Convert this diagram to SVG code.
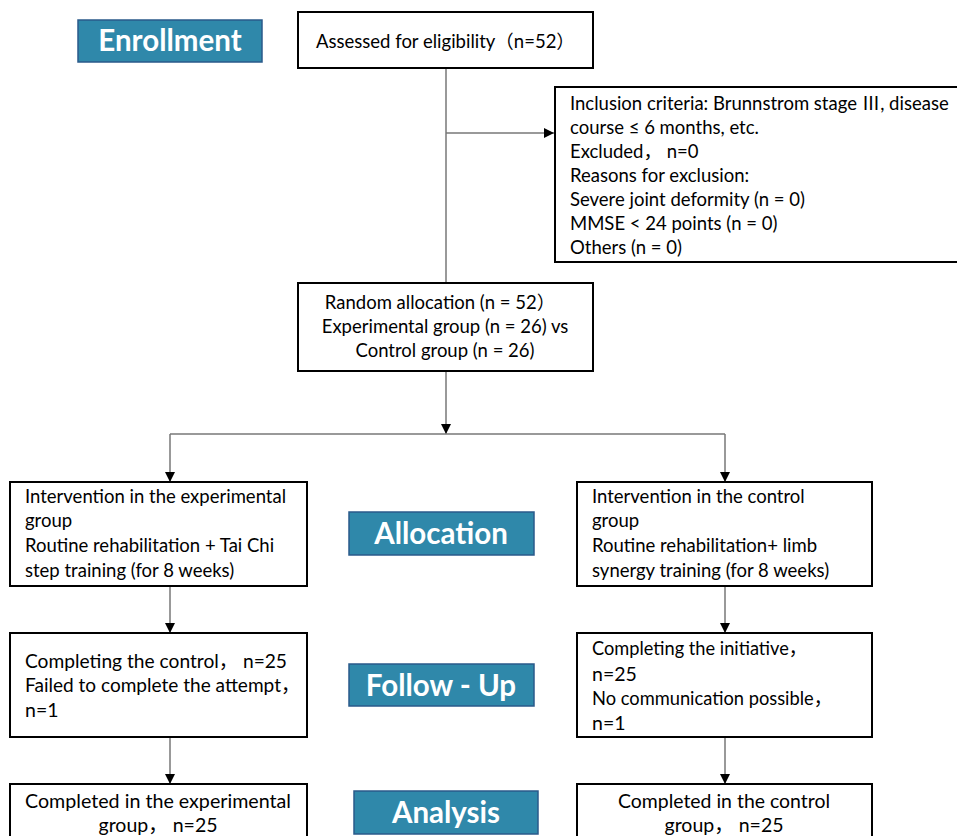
<svg xmlns="http://www.w3.org/2000/svg" width="957" height="836" viewBox="0 0 957 836">
<defs>
<marker id="arr" viewBox="0 0 10 10" refX="10" refY="5" markerWidth="10" markerHeight="10" markerUnits="userSpaceOnUse" orient="auto"><path d="M0,0 L10,5 L0,10 z" fill="#000"/></marker>
<style>
.box{fill:#fff;stroke:#000;stroke-width:2}
.stage{fill:#2f88aa;stroke:#2a5a8a;stroke-width:1.5}
.stt{font-family:Lato,"Liberation Sans","Noto Sans CJK SC",sans-serif;font-weight:bold;font-size:29.5px;fill:#fff;text-anchor:middle}
.t{font-family:Lato,"Liberation Sans","Noto Sans CJK SC",sans-serif;font-size:18.5px;fill:#000}
.n{font-size:19.5px}
.c{text-anchor:middle}
.ln{stroke:#777;stroke-width:1.5;fill:none}
</style>
</defs>
<g id="connectors">
<path class="ln" d="M446,68 V283"/>
<path class="ln" d="M446,133 H554" marker-end="url(#arr)"/>
<path class="ln" d="M446,371 V434" marker-end="url(#arr)"/>
<path class="ln" d="M170,434 H725"/>
<path class="ln" d="M170,434 V482" marker-end="url(#arr)"/>
<path class="ln" d="M725,434 V482" marker-end="url(#arr)"/>
<path class="ln" d="M170,586 V633" marker-end="url(#arr)"/>
<path class="ln" d="M725,586 V633" marker-end="url(#arr)"/>
<path class="ln" d="M170,737 V784" marker-end="url(#arr)"/>
<path class="ln" d="M725,737 V784" marker-end="url(#arr)"/>
</g>
<g id="enrollment"><rect class="stage" x="78" y="20" width="184" height="42"/><text class="stt" x="170" y="51">Enrollment</text></g>
<g id="allocation"><rect class="stage" x="349" y="512" width="185" height="43"/><text class="stt" x="441" y="544">Allocation</text></g>
<g id="followup"><rect class="stage" x="349" y="664" width="185" height="42"/><text class="stt" x="441" y="696">Follow - Up</text></g>
<g id="analysis"><rect class="stage" x="354" y="791" width="184" height="43"/><text class="stt" x="446" y="823">Analysis</text></g>
<g id="assessed"><rect class="box" x="298" y="12" width="295" height="56"/><text class="t" x="316" y="48" font-size="17.5">Assessed for eligibility（n=52）</text></g>
<g id="exclusion"><rect class="box" x="555" y="87" width="410" height="175"/>
<text class="t" x="570" y="110">Inclusion criteria: Brunnstrom stage Ⅲ, disease</text>
<text class="t" x="570" y="134">course ≤ 6 months, etc.</text>
<text class="t" x="570" y="158">Excluded，  n=0</text>
<text class="t" x="570" y="182">Reasons for exclusion:</text>
<text class="t" x="570" y="206">Severe joint deformity (n = 0)</text>
<text class="t" x="570" y="230">MMSE &lt; 24 points (n = 0)</text>
<text class="t" x="570" y="254">Others (n = 0)</text>
</g>
<g id="random"><rect class="box" x="298" y="283" width="295" height="88"/>
<text class="t c" x="440" y="309">Random allocation (n = 52）</text>
<text class="t c" x="445" y="333">Experimental group (n = 26) vs</text>
<text class="t c" x="445" y="357">Control group (n = 26)</text>
</g>
<g id="exp-intervention"><rect class="box" x="10" y="482" width="297" height="104"/>
<text class="t" x="25" y="503">Intervention in the experimental</text>
<text class="t" x="25" y="527">group</text>
<text class="t" x="25" y="552">Routine rehabilitation + Tai Chi</text>
<text class="t" x="25" y="577">step training (for 8 weeks)</text>
</g>
<g id="ctl-intervention"><rect class="box" x="577" y="482" width="295" height="104"/>
<text class="t" x="592" y="503">Intervention in the control</text>
<text class="t" x="592" y="527">group</text>
<text class="t" x="592" y="552">Routine rehabilitation+ limb</text>
<text class="t" x="592" y="577">synergy training  (for 8 weeks)</text>
</g>
<g id="exp-follow"><rect class="box" x="10" y="633" width="297" height="104"/>
<text class="t n" x="25" y="668" textLength="262" lengthAdjust="spacingAndGlyphs">Completing the control，  n=25</text>
<text class="t n" x="25" y="692" textLength="275" lengthAdjust="spacingAndGlyphs">Failed to complete the attempt，</text>
<text class="t n" x="25" y="717">n=1</text>
</g>
<g id="ctl-follow"><rect class="box" x="577" y="633" width="295" height="104"/>
<text class="t n" x="592" y="655" textLength="215" lengthAdjust="spacingAndGlyphs">Completing the initiative，</text>
<text class="t n" x="592" y="681">n=25</text>
<text class="t n" x="592" y="705" textLength="240" lengthAdjust="spacingAndGlyphs">No communication possible，</text>
<text class="t n" x="592" y="730">n=1</text>
</g>
<g id="exp-analysis"><rect class="box" x="10" y="784" width="297" height="60"/>
<text class="t n c" x="158" y="808" textLength="266" lengthAdjust="spacingAndGlyphs">Completed in the experimental</text>
<text class="t n c" x="158" y="832">group，  n=25</text>
</g>
<g id="ctl-analysis"><rect class="box" x="577" y="784" width="295" height="60"/>
<text class="t n c" x="724" y="808" textLength="212" lengthAdjust="spacingAndGlyphs">Completed in the control</text>
<text class="t n c" x="724" y="832">group，  n=25</text>
</g>
</svg>
